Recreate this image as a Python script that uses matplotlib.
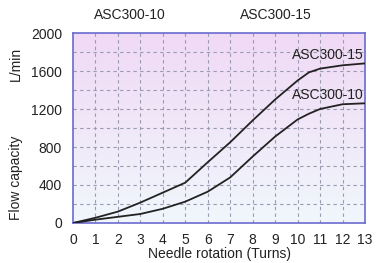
import numpy as np
import matplotlib
matplotlib.use("Agg")
import matplotlib.pyplot as plt
from matplotlib.colors import LinearSegmentedColormap

turns = [0, 1, 2, 3, 4, 5, 6, 7, 8, 9, 10, 10.5, 11, 12, 13]
asc300_15 = [0, 55, 120, 215, 320, 425, 640, 850, 1080, 1300, 1500, 1585, 1625, 1660, 1680]
asc300_10 = [0, 35, 65, 95, 150, 225, 330, 480, 700, 910, 1090, 1150, 1200, 1250, 1260]
xticks = list(range(0, 14))
yticks = [0, 400, 800, 1200, 1600, 2000]

plt.rcParams['font.family'] = ['Liberation Sans', 'DejaVu Sans']
fig = plt.figure(figsize=(3.76, 2.63), dpi=100)
W, H = 376, 263
ax = fig.add_axes([73 / W, 1 - 223 / H, 292 / W, 190 / H])

cmap = LinearSegmentedColormap.from_list('bg', ['#f0f7fc', '#f0d9f5'])
grad = np.linspace(0, 1, 256).reshape(-1, 1)
ax.imshow(grad, aspect='auto', cmap=cmap, origin='lower',
          extent=[0, 13, 0, 2000], zorder=0)

ax.set_xlim(0, 13)
ax.set_ylim(0, 2000)
for x in xticks[1:-1]:
    ax.axvline(x, color='#9a9ab0', lw=0.8, ls=(0, (3, 3)), zorder=1)
for y in range(200, 2000, 200):
    ax.axhline(y, color='#9a9ab0', lw=0.8, ls=(0, (3, 3)), zorder=1)

ax.plot(turns, asc300_15, color='#222222', lw=1.3, zorder=3)
ax.plot(turns, asc300_10, color='#222222', lw=1.3, zorder=3)

ax.text(12.95, 1690, 'ASC300-15', ha='right', va='bottom', fontsize=10, color='#222222')
ax.text(12.95, 1275, 'ASC300-10', ha='right', va='bottom', fontsize=10, color='#222222')

for s in ax.spines.values():
    s.set_color('#6a6ad0')
    s.set_linewidth(1.2)

ax.set_xticks(xticks)
ax.set_yticks(yticks)
ax.tick_params(length=0, labelsize=10, colors='#222222')
ax.tick_params(axis='x', pad=7)
ax.tick_params(axis='y', pad=8)
ax.set_xlabel('Needle rotation (Turns)', fontsize=10, labelpad=0, color='#222222')

fig.text(130 / W, 1 - 15 / H, 'ASC300-10', ha='center', va='center', fontsize=10, color='#222222')
fig.text(276 / W, 1 - 15 / H, 'ASC300-15', ha='center', va='center', fontsize=10, color='#222222')
fig.text(16 / W, 1 - 64 / H, 'L/min', rotation=90, ha='center', va='center', fontsize=10, color='#222222')
fig.text(16 / W, 1 - 178 / H, 'Flow capacity', rotation=90, ha='center', va='center', fontsize=10, color='#222222')

fig.savefig('out.png', dpi=100)
